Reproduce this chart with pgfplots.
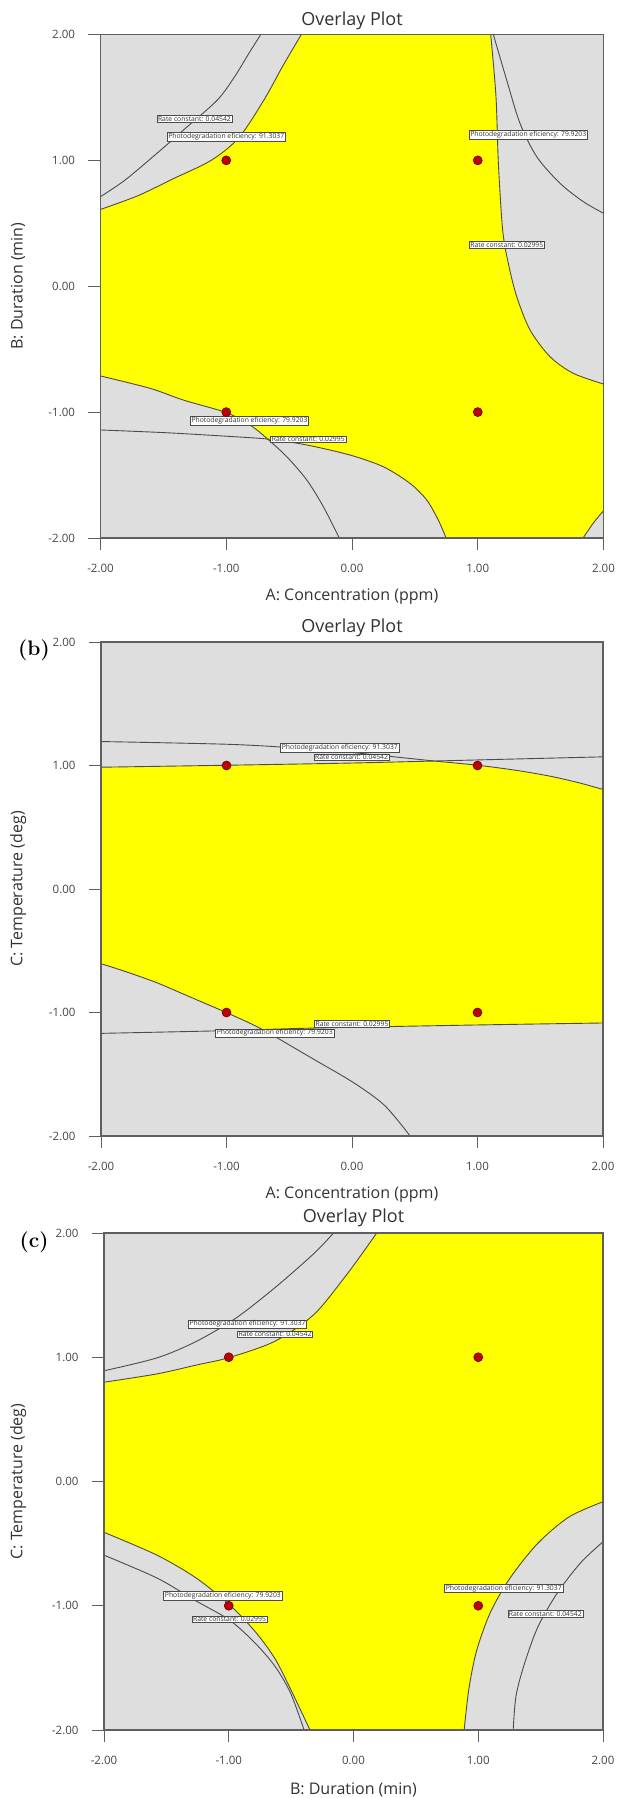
\documentclass[border=0pt]{standalone}
\usepackage{pgfplots}
\pgfplotsset{compat=1.18}
\usepackage{fontspec}
\setsansfont{Open Sans}
\renewcommand{\familydefault}{\sfdefault}
\definecolor{bgray}{RGB}{222,222,222}
\definecolor{yel}{RGB}{255,255,0}
\definecolor{linec}{RGB}{75,75,75}
\definecolor{framec}{RGB}{95,95,95}
\definecolor{tickc}{RGB}{70,70,70}
\definecolor{labc}{RGB}{50,50,50}
\definecolor{dotred}{RGB}{192,0,0}
\definecolor{dotdark}{RGB}{100,0,0}
\tikzset{lbl/.style={draw=linec, fill=white, line width=0.5pt, inner xsep=1.2pt, inner ysep=0.7pt, font=\fontsize{6.8}{7.2}\selectfont, text=labc},
  panellbl/.style={font=\rmfamily\bfseries\fontsize{21}{23}\selectfont, text=black, inner sep=0pt}}
\pgfplotsset{
  ov/.style={
    scale only axis,
    xmin=-2,xmax=2,ymin=-2,ymax=2,
    xtick={-2,-1,0,1,2}, ytick={-2,-1,0,1,2},
    xtick pos=bottom, ytick pos=left,
    tick align=outside,
    major tick length=12pt,
    xticklabel shift=11pt, yticklabel shift=10pt,
    tick style={draw=framec, line width=0.9pt},
    axis line style={draw=framec, line width=1.3pt},
    axis background/.style={fill=bgray},
    axis on top,
    every axis title shift=0pt,
    /pgf/number format/fixed, /pgf/number format/fixed zerofill,
    /pgf/number format/precision=2, /pgf/number format/assume math mode=true,
    ticklabel style={font=\fontsize{11.5}{13}\selectfont, text=tickc},
    title style={font=\fontsize{18}{21}\selectfont, text=labc, anchor=center, yshift=0pt},
    xlabel style={font=\fontsize{16}{18}\selectfont, text=labc, anchor=center},
    ylabel style={font=\fontsize{16}{18}\selectfont, text=labc, anchor=center},
  },
  bnd/.style={smooth, draw=linec, line width=0.9pt, no markers, forget plot},
  yfill/.style={draw=none, fill=yel, no markers, forget plot},
  dots/.style={only marks, mark=*, mark size=4.5pt, mark options={fill=dotred, draw=dotdark, line width=0.6pt}},
}
\begin{document}
\begin{tikzpicture}
\useasboundingbox (0pt,0pt) rectangle (616pt,1798pt);
% ---------------- panel (a) ----------------
\begin{axis}[ov, at={(100.5pt,1260pt)}, anchor=south west, width=503pt, height=503.5pt,
  title={Overlay Plot}, title style={at={(axis description cs:0.5,1.027)}},
  xlabel={A: Concentration (ppm)}, xlabel style={at={(axis description cs:0.5,-0.117)}},
  ylabel={B: Duration (min)}, ylabel style={at={(axis description cs:-0.164,0.5)}}]
\addplot[yfill] coordinates {(-0.403,2) (1.103,2) (1.145,1.506) (1.164,0.977) (1.198,0.447) (1.243,0.182) (1.310,-0.083) (1.416,-0.348) (1.575,-0.560) (1.760,-0.692) (2,-0.777) (2,-1.784) (1.92,-1.88) (1.838,-2) (0.748,-2) (0.686,-1.857) (0.594,-1.698) (0.461,-1.566) (0.249,-1.434) (-0.016,-1.341) (-0.36,-1.261) (-0.665,-1.214) (-0.811,-1.102) (-1.0,-1.004) (-1.342,-0.904) (-1.606,-0.811) (-2,-0.713) (-2,0.61) (-1.7,0.72) (-1.43,0.85) (-1.12,1.0) (-0.9,1.18) (-0.7,1.48) (-0.55,1.75) (-0.403,2)};
\addplot[bnd] coordinates {(-2,0.712) (-1.8,0.847) (-1.5,1.1) (-1.33,1.25) (-1.07,1.48) (-0.93,1.67) (-0.82,1.85) (-0.725,2)};
\addplot[bnd] coordinates {(-2,0.61) (-1.7,0.72) (-1.43,0.85) (-1.12,1.0) (-0.9,1.18) (-0.7,1.48) (-0.55,1.75) (-0.403,2)};
\addplot[bnd] coordinates {(1.103,2) (1.145,1.506) (1.164,0.977) (1.198,0.447) (1.243,0.182) (1.310,-0.083) (1.416,-0.348) (1.575,-0.560) (1.760,-0.692) (2,-0.777)};
\addplot[bnd] coordinates {(1.124,2) (1.230,1.638) (1.336,1.294) (1.469,1.029) (1.654,0.818) (1.839,0.672) (2,0.580)};
\addplot[bnd] coordinates {(-2,-0.713) (-1.606,-0.811) (-1.342,-0.904) (-1.0,-1.004) (-0.811,-1.102) (-0.678,-1.208) (-0.519,-1.354) (-0.36,-1.539) (-0.228,-1.751) (-0.101,-2)};
\addplot[bnd] coordinates {(-2,-1.142) (-1.474,-1.164) (-0.944,-1.195) (-0.652,-1.216) (-0.36,-1.261) (-0.016,-1.341) (0.249,-1.434) (0.461,-1.566) (0.594,-1.698) (0.686,-1.857) (0.748,-2)};
\addplot[bnd] coordinates {(1.838,-2) (1.92,-1.88) (2,-1.784)};
\node[lbl] at (axis cs:-1.253,1.330) {Rate constant: 0.04542};
\node[lbl] at (axis cs:-1.0,1.187) {Photodegradation eficiency: 91.3037};
\node[lbl] at (axis cs:1.402,1.204) {Photodegradation eficiency: 79.9203};
\node[lbl] at (axis cs:1.231,0.329) {Rate constant: 0.02995};
\node[lbl] at (axis cs:-0.815,-1.069) {Photodegradation eficiency: 79.9203};
\node[lbl] at (axis cs:-0.348,-1.217) {Rate constant: 0.02995};
\addplot[dots] coordinates {(-1,1) (1,1) (-1,-1) (1,-1)};
\end{axis}
% ---------------- panel (b) ----------------
\begin{axis}[ov, at={(101pt,662pt)}, anchor=south west, width=502pt, height=494pt,
  title={Overlay Plot}, title style={at={(axis description cs:0.5,1.028)}},
  xlabel={A: Concentration (ppm)}, xlabel style={at={(axis description cs:0.5,-0.119)}},
  ylabel={C: Temperature (deg)}, ylabel style={at={(axis description cs:-0.165,0.5)}}]
\addplot[yfill] coordinates {(-2,0.986) (-1,1.002) (0.009,1.023) (0.63,1.037) (1.0,1.002) (1.3,0.962) (1.57,0.915) (1.8,0.862) (2,0.806) (2,-1.085) (1,-1.101) (-0.303,-1.126) (-0.72,-1.138) (-0.772,-1.107) (-1,-1.001) (-1.3,-0.87) (-1.553,-0.76) (-1.8,-0.67) (-2,-0.605)};
\addplot[bnd] coordinates {(-2,1.194) (-1,1.172) (-0.5,1.145) (0,1.105) (0.63,1.039) (1,1.002) (1.3,0.962) (1.57,0.915) (1.8,0.862) (2,0.806)};
\addplot[bnd] coordinates {(-2,0.986) (-1,1.002) (0,1.02) (1,1.045) (2,1.07)};
\addplot[bnd] coordinates {(-2,-0.605) (-1.8,-0.67) (-1.553,-0.76) (-1.3,-0.87) (-1,-1.001) (-0.772,-1.107) (-0.616,-1.194) (-0.303,-1.38) (0.009,-1.566) (0.259,-1.752) (0.463,-2)};
\addplot[bnd] coordinates {(-2,-1.169) (-1,-1.147) (-0.303,-1.126) (1,-1.101) (2,-1.085)};
\node[lbl] at (axis cs:-0.097,1.144) {Photodegradation eficiency: 91.3037};
\node[lbl] at (axis cs:-0.003,1.067) {Rate constant: 0.04542};
\node[lbl] at (axis cs:0.0,-1.091) {Rate constant: 0.02995};
\node[lbl] at (axis cs:-0.616,-1.166) {Photodegradation eficiency: 79.9203};
\addplot[dots] coordinates {(-1,1) (1,1) (-1,-1) (1,-1)};
\end{axis}
\node[panellbl] at (34pt,1148pt) {(b)};
% ---------------- panel (c) ----------------
\begin{axis}[ov, at={(104pt,68pt)}, anchor=south west, width=499pt, height=497pt,
  title={Overlay Plot}, title style={at={(axis description cs:0.5,1.030)}},
  xlabel={B: Duration (min)}, xlabel style={at={(axis description cs:0.5,-0.121)}},
  ylabel={C: Temperature (deg)}, ylabel style={at={(axis description cs:-0.172,0.5)}}]
\addplot[yfill] coordinates {(0.186,2) (2,2) (2,-0.163) (1.726,-0.286) (1.475,-0.5) (1.255,-0.777) (1.097,-1.054) (0.987,-1.361) (0.925,-1.668) (0.887,-2) (-0.349,-2) (-0.506,-1.668) (-0.632,-1.422) (-0.789,-1.207) (-0.994,-0.992) (-1.261,-0.777) (-1.575,-0.593) (-2,-0.409) (-2,0.799) (-1.575,0.866) (-1.261,0.937) (-0.994,0.998) (-0.632,1.128) (-0.318,1.343) (-0.066,1.65) (0.091,1.865) (0.186,2)};
\addplot[bnd] coordinates {(-2,0.891) (-1.575,0.995) (-1.261,1.127) (-0.947,1.312) (-0.632,1.558) (-0.318,1.834) (-0.16,2)};
\addplot[bnd] coordinates {(-2,0.799) (-1.575,0.866) (-1.261,0.937) (-0.994,0.998) (-0.632,1.128) (-0.318,1.343) (-0.066,1.65) (0.091,1.865) (0.186,2)};
\addplot[bnd] coordinates {(-2,-0.409) (-1.575,-0.593) (-1.261,-0.777) (-0.994,-0.992) (-0.789,-1.207) (-0.632,-1.422) (-0.506,-1.668) (-0.349,-2)};
\addplot[bnd] coordinates {(-2,-0.593) (-1.575,-0.777) (-1.261,-0.962) (-0.994,-1.115) (-0.789,-1.3) (-0.632,-1.484) (-0.506,-1.699) (-0.396,-2)};
\addplot[bnd] coordinates {(2,-0.163) (1.726,-0.286) (1.475,-0.5) (1.255,-0.777) (1.097,-1.054) (0.987,-1.361) (0.925,-1.668) (0.887,-2)};
\addplot[bnd] coordinates {(2,-0.485) (1.821,-0.654) (1.632,-0.9) (1.475,-1.177) (1.365,-1.484) (1.302,-1.73) (1.28,-2)};
\node[lbl] at (axis cs:-0.849,1.266) {Photodegradation eficiency: 91.3037};
\node[lbl] at (axis cs:-0.629,1.186) {Rate constant: 0.04542};
\node[lbl] at (axis cs:-1.047,-0.919) {Photodegradation eficiency: 79.9203};
\node[lbl] at (axis cs:-0.994,-1.109) {Rate constant: 0.02995};
\node[lbl] at (axis cs:1.204,-0.860) {Photodegradation eficiency: 91.3037};
\node[lbl] at (axis cs:1.538,-1.066) {Rate constant: 0.04542};
\addplot[dots] coordinates {(-1,1) (1,1) (-1,-1) (1,-1)};
\end{axis}
\node[panellbl] at (34pt,1242pt-686pt) {(c)};
\end{tikzpicture}
\end{document}
